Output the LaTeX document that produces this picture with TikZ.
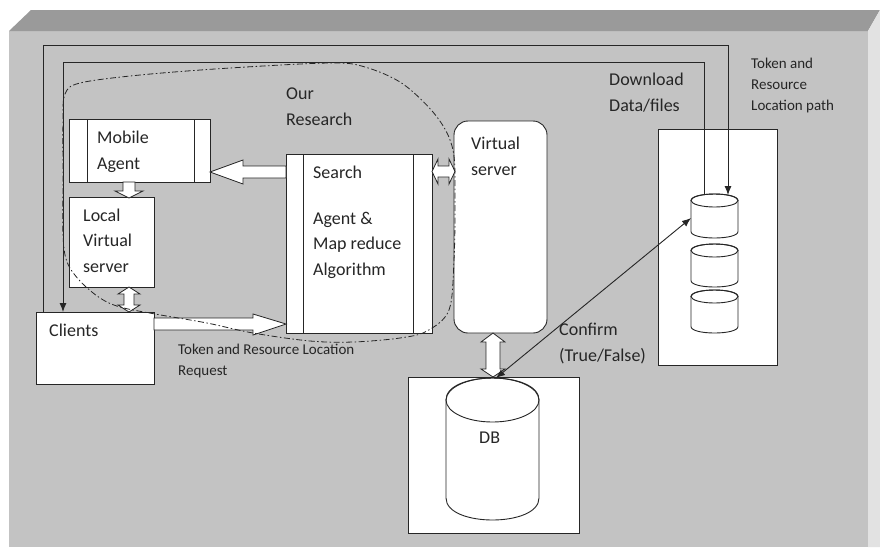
\documentclass[tikz,border=0pt]{standalone}
\usepackage{fontspec}
\setmainfont{Carlito}
\usetikzlibrary{arrows.meta,calc}
\definecolor{face}{HTML}{C3C3C3}
\definecolor{topc}{HTML}{9A9A9A}
\definecolor{sidec}{HTML}{E2E2E2}
\definecolor{ink}{HTML}{262626}
\newcommand\mycyl[5]{%
  \path[wire, fill=white] (#1-#4,#2) -- (#1-#4,#3) .. controls (#1-#4,#3+1.3333*#5) and (#1+#4,#3+1.3333*#5) .. (#1+#4,#3) -- (#1+#4,#2) .. controls (#1+#4,#2-1.3333*#5) and (#1-#4,#2-1.3333*#5) .. (#1-#4,#2) -- cycle;
  \draw[wire] (#1,#2) ellipse [x radius=#4, y radius=#5];
}
\begin{document}
\begin{tikzpicture}[x=1pt,y=-1pt,
  box/.style={draw=ink, line width=0.9pt, fill=white, inner sep=0pt, outer sep=0pt, anchor=north west},
  lbl/.style={inner sep=0pt, anchor=base west, align=left, text=ink, font=\fontsize{18}{25.5}\selectfont},
  slbl/.style={lbl, font=\fontsize{15}{21}\selectfont},
  wire/.style={draw=ink, line width=0.9pt},
  tip/.style={-{Latex[length=9pt,width=7pt]}},
  blk/.style={draw=ink, line width=0.8pt, fill=white, line join=miter},
  research/.style={draw=ink, line width=0.8pt, dash pattern=on 6pt off 2.5pt on 1.5pt off 2.5pt}
]
\useasboundingbox (0,0) rectangle (880,547);
\fill[white] (0,0) rectangle (880,547);
% 3D panel
\fill[face] (9,31) rectangle (868,547);
\fill[topc] (9,31) -- (31,10) -- (880,10) -- (868,31) -- cycle;
\fill[sidec] (868,31) -- (880,10) -- (880,547) -- (868,547) -- cycle;

% boxes
\node[box, minimum width=141pt, minimum height=63pt] (mobile) at (69,119) {};
\draw[wire] ($(mobile.north west)+(18,0)$) -- ($(mobile.south west)+(18,0)$);
\draw[wire] ($(mobile.north east)+(-16,0)$) -- ($(mobile.south east)+(-16,0)$);
\node[box, minimum width=85pt, minimum height=90pt] (local) at (69,197) {};
\node[box, minimum width=118pt, minimum height=72pt] (clients) at (36,312) {};
\node[box, minimum width=146pt, minimum height=179pt] (search) at (286,154) {};
\draw[wire] ($(search.north west)+(17,0)$) -- ($(search.south west)+(17,0)$);
\draw[wire] ($(search.north east)+(-19,0)$) -- ($(search.south east)+(-19,0)$);
\node[box, rounded corners=14pt, minimum width=93pt, minimum height=212pt] (vserver) at (454,121) {};
\node[box, minimum width=171pt, minimum height=156pt] (dbbox) at (408,377) {};
\node[box, minimum width=119pt, minimum height=236pt] (store) at (658,129) {};

% cylinders
\mycyl{492.5}{400}{498}{46.5}{22}
\mycyl{714.5}{200.5}{231.5}{23.5}{6.5}
\mycyl{714.5}{250.5}{280.5}{23.5}{6.5}
\mycyl{714.5}{296.5}{326.5}{23.5}{6.5}
\coordinate (dbtop) at (496,378);
\coordinate (c1left) at (691,218);
\coordinate (c1in) at (728,195);
\coordinate (c1out) at (704,195);

% block arrows
\path[blk] (search.west |- 0,166) -- (243,166) -- (243,160) -- (mobile.east |- 0,172) -- (243,184) -- (243,178) -- (search.west |- 0,178) -- cycle;
\path[blk] (123,182) -- (123,191) -- (115,191) -- (129,198) -- (143,191) -- (135,191) -- (135,182) -- cycle;
\path[blk] (129,287) -- (140,294) -- (134,294) -- (134,305) -- (140,305) -- (129,312) -- (118,305) -- (124,305) -- (124,294) -- (118,294) -- cycle;
\path[blk] (clients.east |- 0,318) -- (253,318) -- (253,314) -- (search.west |- 0,324) -- (253,335) -- (253,330) -- (clients.east |- 0,330) -- cycle;
\path[blk] (432,171.5) -- (438,159) -- (438,166) -- (449,166) -- (449,159) -- (455,171.5) -- (449,184) -- (449,177) -- (438,177) -- (438,184) -- cycle;
\path[blk] (493,333) -- (505,342) -- (500,342) -- (500,369) -- (505,369) -- (493,377) -- (481,369) -- (486,369) -- (486,342) -- (481,342) -- cycle;

% wires
\draw[wire, tip] ($(clients.north west)+(7,0)$) |- (728,45) -- (c1in);
\draw[wire, tip] (c1out) -- (704,62) -| ($(clients.north west)+(27,0)$);
\draw[wire, {Latex[length=9pt,width=7pt]}-{Latex[length=9pt,width=7pt]}] (dbtop) -- (c1left);

% research boundary
\draw[research] plot[smooth cycle, tension=0.55] coordinates {
 (63,120) (65,94) (80,83) (140,75) (230,68) (330,63) (365,67) (403,84) (437,117)
 (453,150) (455,200) (454,260) (449,310) (427,331) (400,338) (353,342) (310,341)
 (253,333) (207,323) (155,314) (120,307) (100,298) (80,281) (67,262) (63,235) (63,180)};

% labels (base anchor = baseline of the last line)
\node[lbl] (tour) at (286,125) {Our\\Research};
\node[lbl] (tmob) at (97,169) {Mobile\\Agent};
\node[lbl] (tloc) at (83,272) {Local\\Virtual\\server};
\node[lbl] (tcli) at (49,336) {Clients};
\node[lbl] (tsea) at (313,178) {Search};
\node[lbl] (tagt) at (313,275) {Agent \&\\Map reduce\\Algorithm};
\node[lbl] (tvs) at (471,175) {Virtual\\server};
\node[lbl] (tdl) at (609,111) {Download\\Data/files};
\node[slbl] (ttok) at (751,110) {Token and\\Resource\\Location path};
\node[slbl] (treq) at (178,375) {Token and Resource Location\\Request};
\node[lbl] (tcon) at (559,361) {Confirm\\(True/False)};
\node[lbl] (tdb) at (479,443) {DB};
\end{tikzpicture}
\end{document}
